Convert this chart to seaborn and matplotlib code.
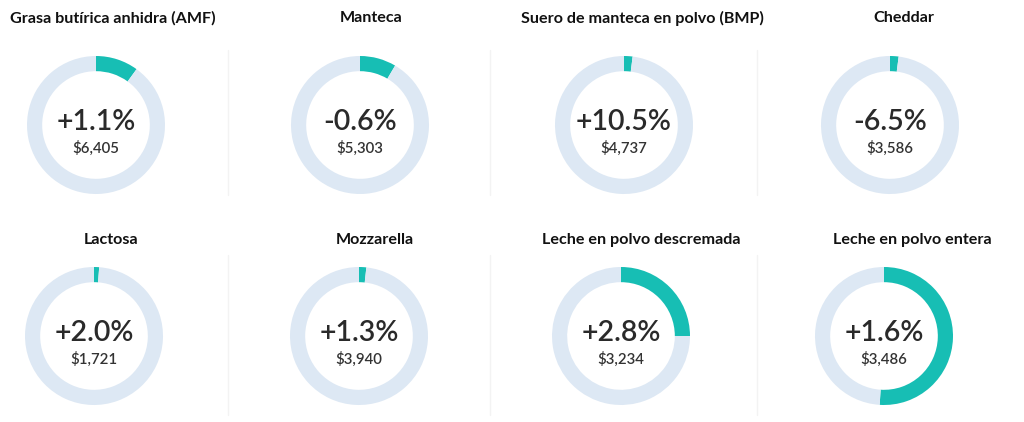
import matplotlib
matplotlib.use("Agg")
import matplotlib.pyplot as plt
import seaborn as sns
from matplotlib.lines import Line2D

# Datos del gráfico
productos = ["Grasa butírica anhidra (AMF)", "Manteca", "Suero de manteca en polvo (BMP)", "Cheddar",
             "Lactosa", "Mozzarella", "Leche en polvo descremada", "Leche en polvo entera"]
variacion = ["+1.1%", "-0.6%", "+10.5%", "-6.5%", "+2.0%", "+1.3%", "+2.8%", "+1.6%"]
precios = ["$6,405", "$5,303", "$4,737", "$3,586", "$1,721", "$3,940", "$3,234", "$3,486"]
participacion = [0.10, 0.085, 0.02, 0.02, 0.012, 0.017, 0.25, 0.51]

sns.set_theme(style="white")
plt.rcParams['font.family'] = ['Lato', 'DejaVu Sans']

W, H = 1024, 422
fig = plt.figure(figsize=(W / 100, H / 100), dpi=100)
fig.patch.set_facecolor("white")

teal = "#17beb4"
claro = "#dde8f4"

# centros de cada dona (px) y posición de títulos
centros_x = [[96, 360, 624, 890], [94, 359, 621, 884]]
centros_y = [125, 336]
titulos_x = [[113, 371, 642, 904], [111, 375, 641, 912]]
titulos_y = [18, 240]
radio = 69

for i, prod in enumerate(productos):
    fila, col = divmod(i, 4)
    cx, cy = centros_x[fila][col], centros_y[fila]
    ax = fig.add_axes([(cx - radio) / W, 1 - (cy + radio) / H, 2 * radio / W, 2 * radio / H])
    ax.pie([participacion[i], 1 - participacion[i]], startangle=90, counterclock=False,
           colors=[teal, claro], wedgeprops=dict(width=0.22, linewidth=0), radius=1)
    ax.set_xlim(-1, 1)
    ax.set_ylim(-1, 1)
    ax.set_aspect("equal")
    ax.axis("off")
    fig.text(cx / W, 1 - (cy - 3) / H, variacion[i], ha="center", va="center",
             fontsize=20.5, fontweight="semibold", color="#2a2a2a")
    fig.text(cx / W, 1 - (cy + 23) / H, precios[i], ha="center", va="center",
             fontsize=10.8, fontweight="semibold", color="#333333")
    fig.text(titulos_x[fila][col] / W, 1 - titulos_y[fila] / H, prod, ha="center", va="center",
             fontsize=11.6, fontweight="bold", color="#111111")

# separadores verticales tenues
for x in [228, 490, 757]:
    for y0, y1 in [(50, 195), (255, 415)]:
        fig.add_artist(Line2D([x / W, x / W], [1 - y0 / H, 1 - y1 / H],
                              color="#f3f3f3", linewidth=1))

fig.savefig("out.png", dpi=100, facecolor="white")
